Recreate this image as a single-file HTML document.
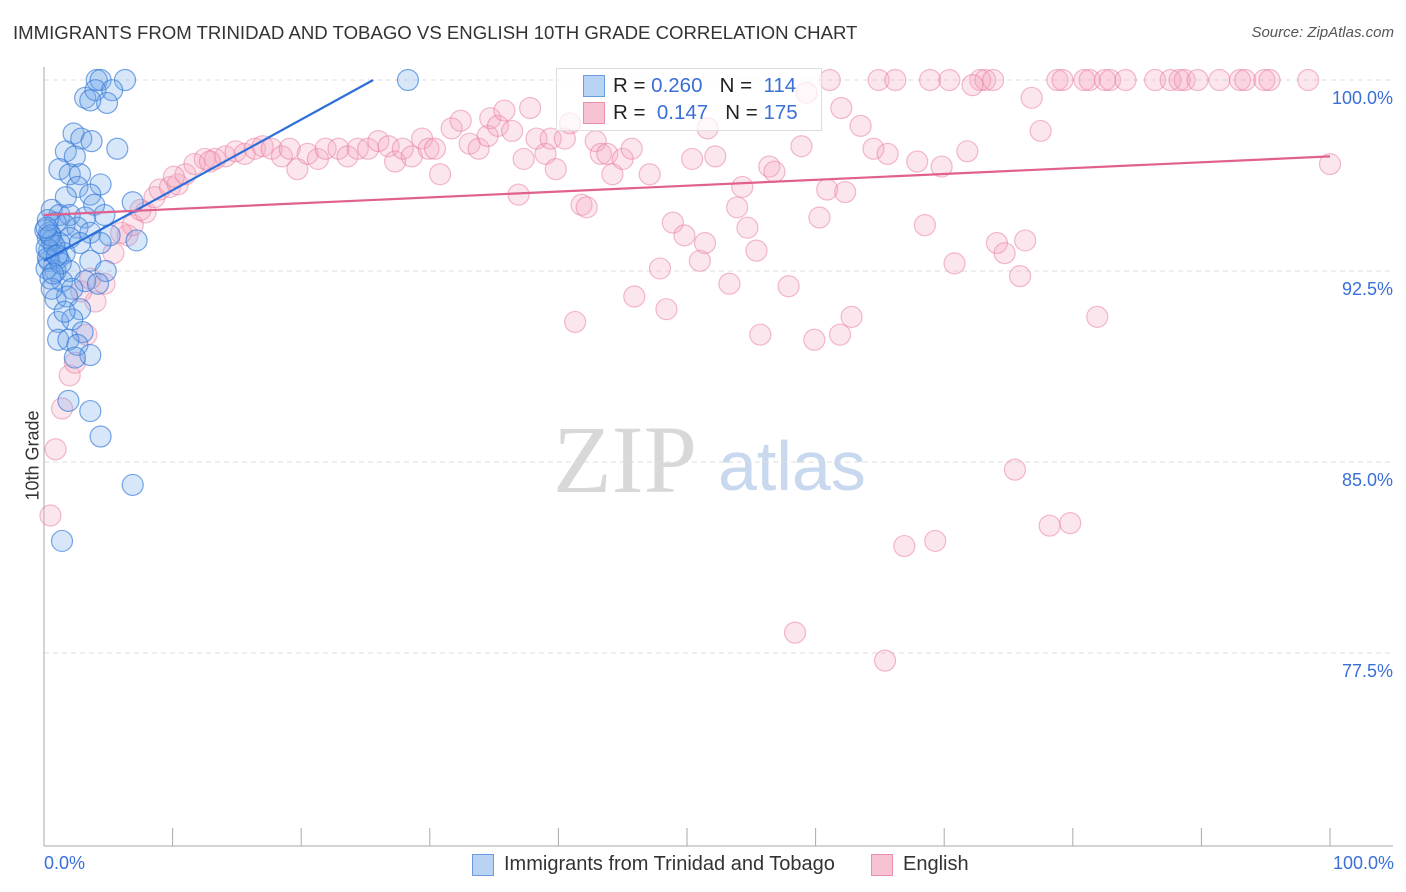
<!DOCTYPE html>
<html><head><meta charset="utf-8"><style>
body{margin:0;background:#fff;font-family:"Liberation Sans",sans-serif;}
#wrap{position:relative;width:1406px;height:892px;overflow:hidden;}
.t{position:absolute;white-space:nowrap;}
</style></head><body>
<div id="wrap">
<div class="t" style="left:13px;top:22px;font-size:18.6px;color:#333;">IMMIGRANTS FROM TRINIDAD AND TOBAGO VS ENGLISH 10TH GRADE CORRELATION CHART</div>
<div class="t" style="right:12px;top:24px;font-size:15px;color:#555;font-style:italic;">Source: ZipAtlas.com</div>
<svg id="plot" width="1406" height="892" style="position:absolute;left:0;top:0">
<text x="553" y="492" font-family="Liberation Serif,serif" font-size="96" fill="#d8d8d8">ZIP</text>
<text x="718" y="490" font-family="Liberation Sans,sans-serif" font-size="70" fill="#c8d8ee">atlas</text>
<g id="grid"></g><g id="axes"></g><g id="pink"></g><g id="blue"></g><g id="trend"></g>
</svg>
<div style="position:absolute;left:556px;top:68px;width:264px;height:61px;border:1px solid #ddd;background:rgba(255,255,255,0.7);">
 <div style="position:absolute;left:26px;top:6px;width:20px;height:20px;background:#b9d3f5;border:1px solid #6a9de0;"></div>
 <div class="t" style="left:56px;top:5px;font-size:20.5px;color:#222;">R = <span style="color:#3a6fd8">0.260</span>&nbsp;&nbsp; N = &nbsp;<span style="color:#3a6fd8">114</span></div>
 <div style="position:absolute;left:26px;top:33px;width:20px;height:20px;background:#f7c3d2;border:1px solid #e88fab;"></div>
 <div class="t" style="left:56px;top:32px;font-size:20.5px;color:#222;">R = &nbsp;<span style="color:#3a6fd8">0.147</span>&nbsp;&nbsp; N = <span style="color:#3a6fd8">175</span></div>
</div>
<div class="t" style="left:-12px;top:445px;font-size:18px;color:#333;transform:rotate(-90deg);">10th Grade</div>
<div class="t" style="left:44px;top:853px;font-size:18px;color:#3a6fd8;">0.0%</div>
<div class="t" style="right:12px;top:853px;font-size:18px;color:#3a6fd8;">100.0%</div>
<div style="position:absolute;left:472px;top:854px;width:20px;height:20px;background:#b9d3f5;border:1px solid #6a9de0;"></div>
<div class="t" style="left:504px;top:853px;font-size:20px;color:#333;">Immigrants from Trinidad and Tobago</div>
<div style="position:absolute;left:871px;top:854px;width:20px;height:20px;background:#f7c3d2;border:1px solid #e88fab;"></div>
<div class="t" style="left:903px;top:853px;font-size:20px;color:#333;">English</div>
</div>
<script>
const yTicks=[100,92.5,85,77.5];
const yTickLabels=["100.0%","92.5%","85.0%","77.5%"];
const blueX=[4.1,4.4,6.3,28.3,3.2,4.0,5.3,4.9,3.6,2.3,2.9,3.7,5.7,1.7,2.4,1.2,2.0,2.8,4.4,2.6,3.6,1.7,6.9,3.9,0.6,1.2,2.0,3.2,4.7,0.9,1.6,2.6,3.6,0.4,5.1,2.0,0.6,1.2,2.8,4.4,7.2,0.4,1.6,1.1,3.6,0.4,2.0,0.9,4.8,1.4,3.2,4.2,2.2,0.9,1.8,2.8,1.1,2.2,1.6,3.0,1.1,1.9,2.6,3.6,2.4,1.9,3.6,4.4,6.9,1.4,0.3,0.2,0.3,0.2,0.5,0.6,0.1,0.3,0.8,1.3,0.5,0.2,1.0,0.7];
const blueY=[100,100,100,100,99.3,99.6,99.6,99.1,99.2,97.9,97.7,97.6,97.3,97.2,97.0,96.5,96.3,96.3,95.9,95.8,95.5,95.4,95.2,95.1,94.9,94.7,94.7,94.6,94.7,94.4,94.3,94.2,94.0,94.0,93.9,93.8,93.7,93.6,93.6,93.6,93.7,93.3,93.2,93.0,92.9,92.9,92.5,92.5,92.5,92.1,92.1,92.0,91.8,91.4,91.5,91.0,90.5,90.6,90.9,90.1,89.8,89.8,89.6,89.2,89.1,87.4,87.0,86.0,84.1,81.9,93.8,93.4,93.0,92.6,92.2,91.8,94.1,94.5,93.5,92.8,93.9,94.2,93.1,92.4];
const pinkX=[61.1,64.9,66.2,68.9,70.4,72.8,73.2,73.8,78.8,79.2,80.9,81.3,82.5,82.9,84.1,86.4,87.6,88.3,88.7,89.7,91.4,93,93.4,94.9,95.3,98.3,72.2,76.8,59.3,
0.5,0.9,1.4,2.0,2.4,3.3,4.0,4.7,2.9,5.4,6.5,6.9,7.9,8.6,9.0,9.8,10.4,11,11.7,12.5,13.3,14.1,14.9,15.6,16.4,17,17.7,18.5,19.1,19.7,20.5,21.3,21.9,22.9,23.6,24.4,25.2,26,26.8,27.3,27.9,28.6,29.4,29.9,30.4,30.8,31.7,32.4,33.1,33.8,34.5,34.7,35.3,35.8,36.4,36.9,37.3,37.8,38.3,39,39.4,39.8,40.5,40.9,41.3,41.8,42.2,42.9,43.3,43.8,44.2,45,45.7,45.9,47.1,47.9,48.4,48.9,49.8,50.4,51,51.4,51.6,52.2,53.3,53.9,54.3,54.7,55.4,55.7,56.4,56.8,57.9,58.4,58.9,59.9,60.3,60.9,61.9,62.3,62.8,63.5,64.5,65.4,65.6,66.9,67.9,68.5,69.3,69.8,70.8,71.8,74.1,74.7,75.5,75.9,76.3,77.5,78.2,79.8,81.9,100,62,7.5,10.1,12.9,3.6,6.0];
const pinkY=[100,100,100,100,100,100,100,100,100,100,100,100,100,100,100,100,100,100,100,100,100,100,100,100,100,100,99.8,99.3,99.5,
82.9,85.5,87.1,88.4,88.9,90.0,91.3,92.0,91.7,93.2,93.9,94.3,94.8,95.4,95.7,95.8,95.9,96.3,96.7,96.9,96.9,97.0,97.2,97.1,97.3,97.4,97.3,97.0,97.3,96.5,97.1,96.9,97.3,97.3,97.0,97.3,97.3,97.6,97.4,96.8,97.3,97.0,97.7,97.3,97.3,96.3,98.1,98.4,97.5,97.3,97.8,98.5,98.2,98.8,98.0,95.5,96.9,98.9,97.7,97.1,97.7,96.5,97.7,98.3,90.5,95.1,95.0,97.6,97.1,97.1,96.3,96.9,97.3,91.5,96.3,92.6,91.0,94.4,93.9,96.9,92.9,93.6,98.1,97.0,92.0,95.0,95.8,94.2,93.3,90.0,96.6,96.4,91.9,78.3,97.4,89.8,94.6,95.7,90.0,95.6,90.7,98.2,97.3,77.2,97.1,81.7,96.8,94.3,81.9,96.6,92.8,97.2,93.6,93.2,84.7,92.3,93.7,98.0,82.5,82.6,90.7,96.7,98.9,94.9,96.2,96.8,92.2,94.0];
const blueTrendX=[0,25.6];
const blueTrendY=[92.9,100];
const pinkTrendX=[0,100];
const pinkTrendY=[94.7,97.0];
const X0=44,X1=1330,YTOP=80,PXPER=191/7.5;
function sx(v){return X0+(X1-X0)*v/100;}
function sy(v){return YTOP+(100-v)*PXPER;}
const NS="http://www.w3.org/2000/svg";
function mk(tag,attrs,parent){const e=document.createElementNS(NS,tag);for(const k in attrs)e.setAttribute(k,attrs[k]);document.getElementById(parent).appendChild(e);return e;}
yTicks.forEach((t,i)=>{
 const l=mk('line',{x1:X0,x2:1393,y1:sy(t),y2:sy(t),stroke:'#ddd','stroke-dasharray':'5,4'},'grid');
 
 
 const tx=mk('text',{x:1393,y:sy(t)+24,'text-anchor':'end','font-size':18,fill:'#3a6fd8','font-family':'Liberation Sans,sans-serif'},'grid');
 tx.textContent=yTickLabels[i];
 
 
});
const ya=mk('line',{x1:X0,x2:X0,y1:67,y2:846,stroke:'#aaa'},'axes');


const xa=mk('line',{x1:X0,x2:1393,y1:846,y2:846,stroke:'#aaa'},'axes');


for(let i=0;i<=10;i++){const tk=mk('line',{x1:sx(i*10),x2:sx(i*10),y1:828,y2:846,stroke:'#aaa'},'axes');
 
 }
pinkX.forEach((x,i)=>{const c=mk('circle',{cx:sx(x),cy:sy(pinkY[i]),r:10.5,fill:'rgba(245,165,190,0.28)',stroke:'rgba(232,120,155,0.5)','stroke-width':1.2},'pink');
 
 });
blueX.forEach((x,i)=>{const c=mk('circle',{cx:sx(x),cy:sy(blueY[i]),r:10.5,fill:'rgba(110,165,235,0.28)',stroke:'rgba(50,120,215,0.65)','stroke-width':1.2},'blue');
 
 });
const bt=mk('line',{x1:sx(blueTrendX[0]),y1:sy(blueTrendY[0]),x2:sx(blueTrendX[1]),y2:sy(blueTrendY[1]),stroke:'#2d6fd8','stroke-width':2.2},'trend');


const pt=mk('line',{x1:sx(pinkTrendX[0]),y1:sy(pinkTrendY[0]),x2:sx(pinkTrendX[1]),y2:sy(pinkTrendY[1]),stroke:'#e0608e','stroke-width':2.2},'trend');


</script>
</body></html>
